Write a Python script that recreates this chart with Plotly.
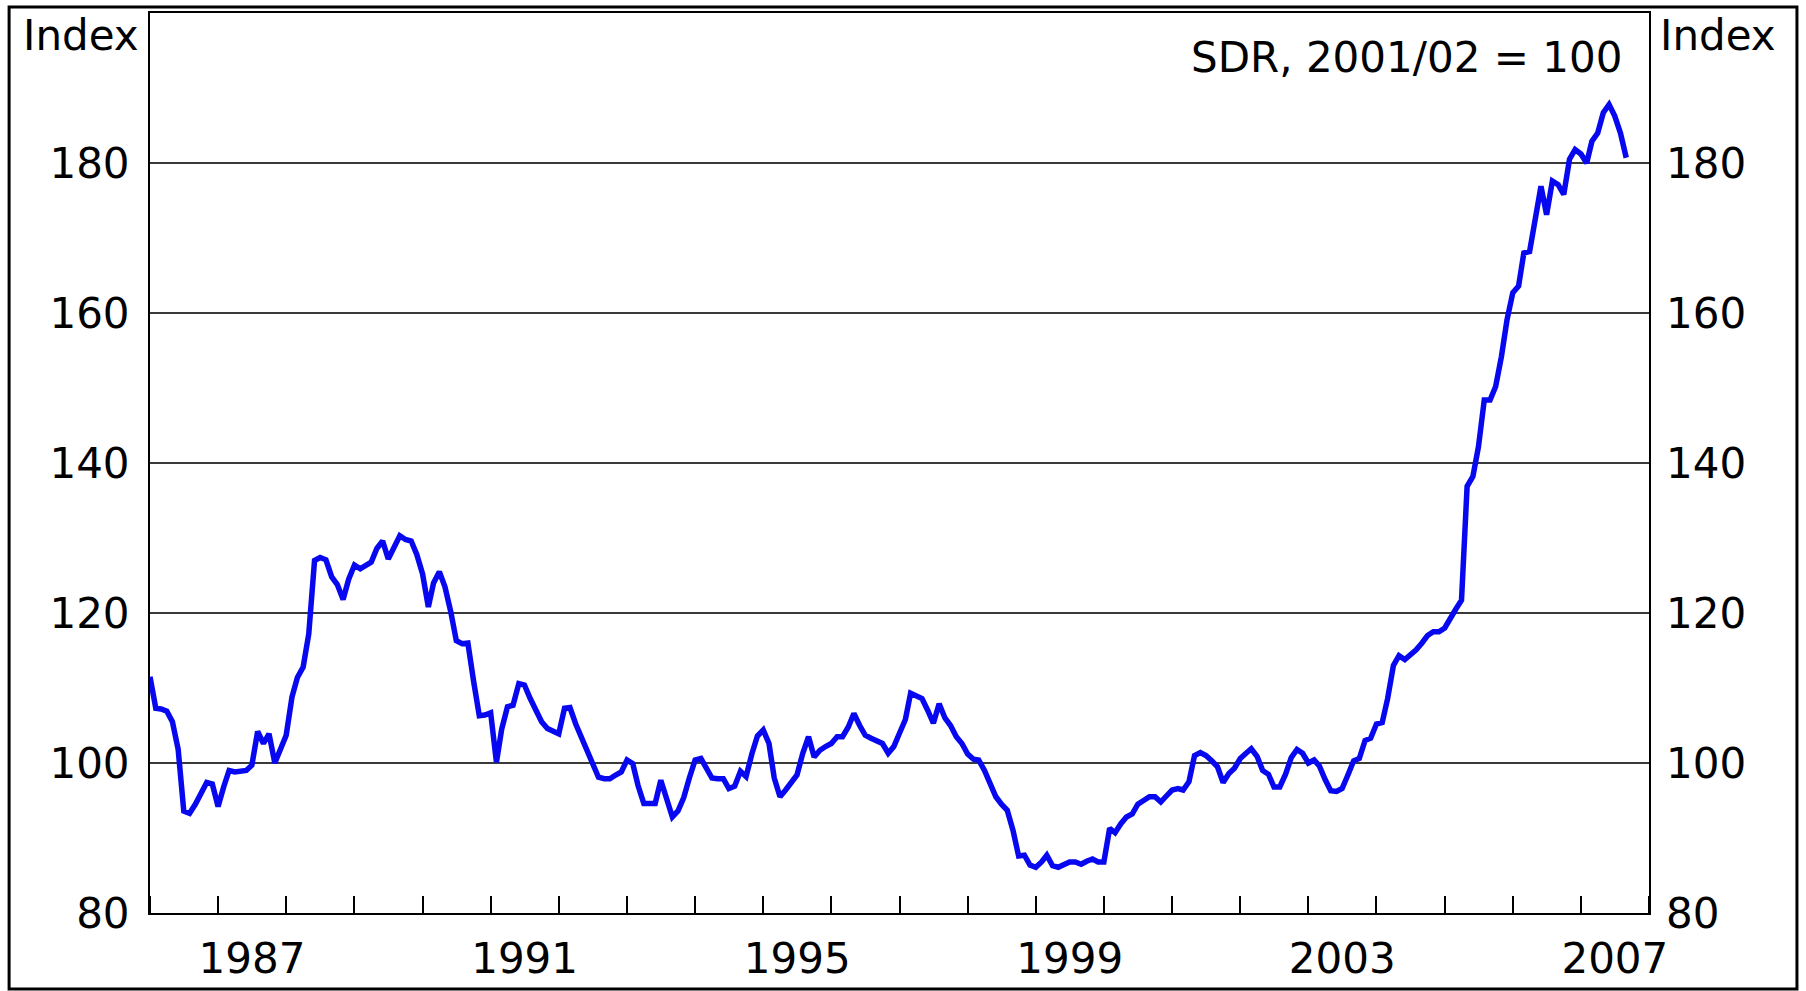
import pandas as pd
import plotly.graph_objects as go

# Monthly index values (SDR, 2001/02 = 100), Jan 1986 onwards
idx_1986 = [111.5, 107.3, 107.2, 106.9, 105.5, 101.8, 93.6, 93.3, 94.5, 95.8, 97.4, 97.2]
idx_1987 = [94.2, 96.9, 99.0, 98.8, 98.9, 99.0, 99.7, 104.2, 102.6, 103.9, 100.0, 101.8]
idx_1988 = [103.7, 108.8, 111.4, 112.8, 117.2, 127.0, 127.4, 127.1, 124.8, 123.8, 121.8, 124.5]
idx_1989 = [126.4, 125.9, 126.4, 126.8, 128.6, 129.6, 127.2, 128.8, 130.3, 129.8, 129.6, 127.8]
idx_1990 = [125.2, 120.8, 124.0, 125.5, 123.5, 120.2, 116.3, 115.9, 116.0, 111.0, 106.3, 106.4]
idx_1991 = [106.7, 100.1, 104.5, 107.5, 107.7, 110.6, 110.4, 108.6, 107.0, 105.5, 104.6, 104.2]
idx_1992 = [103.9, 107.3, 107.4, 105.2, 103.4, 101.8, 99.9, 98.1, 97.9, 97.9, 98.4, 98.8]
idx_1993 = [100.4, 99.9, 97.0, 94.6, 94.6, 94.6, 97.7, 95.5, 92.8, 93.6, 95.4, 98.0]
idx_1994 = [100.4, 100.6, 99.2, 98.0, 97.9, 97.9, 96.6, 96.9, 98.9, 98.2, 101.2, 103.6]
idx_1995 = [104.4, 102.6, 98.0, 95.5, 96.4, 97.5, 98.4, 101.3, 103.5, 100.8, 101.7, 102.2]
idx_1996 = [102.6, 103.5, 103.5, 104.8, 106.6, 105.0, 103.7, 103.3, 103.0, 102.6, 101.3, 102.2]
idx_1997 = [104.0, 105.8, 109.3, 109.0, 108.6, 107.0, 105.3, 107.9, 106.0, 105.0, 103.5, 102.6]
idx_1998 = [101.2, 100.5, 100.4, 99.0, 97.4, 95.5, 94.5, 93.7, 91.0, 87.6, 87.7, 86.4]
idx_1999 = [86.1, 86.8, 87.7, 86.3, 86.1, 86.5, 86.8, 86.8, 86.5, 86.9, 87.2, 86.8]
idx_2000 = [86.8, 91.3, 90.7, 91.9, 92.8, 93.2, 94.5, 95.0, 95.5, 95.5, 94.8, 95.6]
idx_2001 = [96.4, 96.6, 96.4, 97.5, 101.0, 101.4, 101.0, 100.3, 99.5, 97.4, 98.6, 99.3]
idx_2002 = [100.6, 101.3, 101.9, 100.9, 99.0, 98.5, 96.8, 96.8, 98.5, 100.7, 101.8, 101.3]
idx_2003 = [100.0, 100.4, 99.6, 97.8, 96.3, 96.2, 96.6, 98.4, 100.3, 100.6, 103.0, 103.3]
idx_2004 = [105.2, 105.4, 108.6, 113.0, 114.3, 113.8, 114.4, 115.1, 116.0, 117.0, 117.5, 117.5]
idx_2005 = [118.0, 119.5, 120.5, 121.7, 136.9, 138.2, 142.2, 148.4, 148.4, 150.2, 154.2, 159.1]
idx_2006 = [162.7, 163.6, 168.0, 168.2, 172.5, 176.9, 173.1, 177.6, 177.1, 175.8, 180.5, 181.8]
idx_2007 = [181.2, 180.0, 182.9, 184.0, 186.7, 187.8, 186.3, 184.0, 180.7]

values = (idx_1986 + idx_1987 + idx_1988 + idx_1989 + idx_1990 + idx_1991 + idx_1992
          + idx_1993 + idx_1994 + idx_1995 + idx_1996 + idx_1997 + idx_1998 + idx_1999
          + idx_2000 + idx_2001 + idx_2002 + idx_2003 + idx_2004 + idx_2005 + idx_2006
          + idx_2007)
dates = pd.date_range("1986-01-01", periods=len(values), freq="MS")

x_label_years = [1987, 1991, 1995, 1999, 2003, 2007]
y_ticks = [80, 100, 120, 140, 160, 180]

FONT = "DejaVu Sans"
FS = 42

fig = go.Figure()
fig.add_trace(go.Scatter(x=dates, y=values, mode="lines",
                         line=dict(color="#0808f0", width=5.5),
                         showlegend=False, hoverinfo="skip"))
fig.add_trace(go.Scatter(x=dates, y=values, mode="lines", yaxis="y2",
                         line=dict(color="rgba(0,0,0,0)", width=0),
                         showlegend=False, hoverinfo="skip"))

fig.update_layout(
    width=1806, height=991,
    margin=dict(l=150, r=157, t=13, b=78, autoexpand=False),
    paper_bgcolor="white", plot_bgcolor="white",
    font=dict(family=FONT, size=FS, color="black"),
    xaxis=dict(
        type="date",
        range=["1986-01-01", "2008-01-01"],
        tickvals=[f"{y}-07-02" for y in x_label_years],
        ticktext=[str(y) for y in x_label_years],
        ticks="", showgrid=False, zeroline=False,
        showline=True, linecolor="black", linewidth=2, mirror=True,
        ticklabelstandoff=8,
        tickfont=dict(family=FONT, size=FS),
        minor=dict(ticks="inside", ticklen=17, tickwidth=2, tickcolor="black",
                   dtick="M12", tick0="1986-01-01", showgrid=False),
    ),
    yaxis=dict(
        range=[80, 200], tickvals=y_ticks, ticks="",
        showgrid=True, gridcolor="#3a3a3a", gridwidth=1.5, zeroline=False,
        showline=True, linecolor="black", linewidth=2, mirror=True,
        ticklabelstandoff=10,
        tickfont=dict(family=FONT, size=FS),
    ),
    yaxis2=dict(
        range=[80, 200], tickvals=y_ticks, ticks="", overlaying="y", side="right",
        showgrid=False, zeroline=False, showline=False,
        ticklabelstandoff=16,
        tickfont=dict(family=FONT, size=FS),
    ),
    annotations=[
        dict(text="Index", xref="paper", yref="paper", x=-0.006, y=0.975,
             xanchor="right", yanchor="middle", showarrow=False,
             font=dict(family=FONT, size=FS)),
        dict(text="Index", xref="paper", yref="paper", x=1.006, y=0.975,
             xanchor="left", yanchor="middle", showarrow=False,
             font=dict(family=FONT, size=FS)),
        dict(text="SDR, 2001/02 = 100", xref="paper", yref="paper", x=0.983, y=0.951,
             xanchor="right", yanchor="middle", showarrow=False,
             font=dict(family=FONT, size=FS)),
    ],
    shapes=[
        dict(type="rect", xref="paper", yref="paper",
             x0=-0.094, x1=1.0987, y0=-0.0844, y1=1.0067,
             line=dict(color="black", width=3), fillcolor="rgba(0,0,0,0)", layer="below"),
    ],
)

fig.write_html("out.html",
               config={"displayModeBar": False},
               post_script="document.body.style.margin='0';document.body.style.overflow='hidden';")
